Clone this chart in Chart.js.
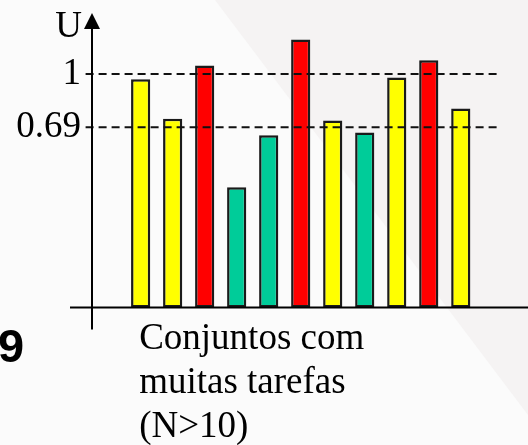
<!DOCTYPE html>
<html>
<head>
<meta charset="utf-8">
<script src="https://cdn.jsdelivr.net/npm/chart.js@4/dist/chart.umd.min.js"></script>
<style>
  html, body { margin: 0; padding: 0; background: #ffffff; }
  #wrap { position: relative; width: 528px; height: 445px; }
</style>
</head>
<body>
<div id="wrap"><canvas id="c"></canvas></div>
<script>
// ---- data ----
const values = [0.97, 0.74, 1.05, 0.46, 0.66, 1.20, 0.73, 0.67, 0.98, 1.08, 0.80];
const groups = ['yellow', 'yellow', 'red', 'green', 'green', 'red', 'yellow', 'green', 'yellow', 'red', 'yellow'];
const refLevels = [1, 0.69];
const tickLabels = ['1', '0.69'];
const axisLabel = 'U';
const caption = ['Conjuntos com', 'muitas tarefas', '(N>10)'];
const cornerText = '9';

// ---- styles ----
const palette = { yellow: '#ffff00', red: '#ff0000', green: '#00cc99' };
const serif = '"Liberation Serif", "Times New Roman", serif';

// the drawing is schematic: the value axis is piecewise linear between its marked levels
const yBreakValues = [0, 0.69, 1, 1.314];
const yBreakDecimals = [0, 0.6268, 0.8122, 1];

function toDecimal(v) {
  const n = yBreakValues.length;
  for (let i = 1; i < n; i++) {
    if (v <= yBreakValues[i] || i === n - 1) {
      const t = (v - yBreakValues[i - 1]) / (yBreakValues[i] - yBreakValues[i - 1]);
      return yBreakDecimals[i - 1] + t * (yBreakDecimals[i] - yBreakDecimals[i - 1]);
    }
  }
  return 0;
}
function fromDecimal(d) {
  const n = yBreakDecimals.length;
  for (let i = 1; i < n; i++) {
    if (d <= yBreakDecimals[i] || i === n - 1) {
      const t = (d - yBreakDecimals[i - 1]) / (yBreakDecimals[i] - yBreakDecimals[i - 1]);
      return yBreakValues[i - 1] + t * (yBreakValues[i] - yBreakValues[i - 1]);
    }
  }
  return 0;
}

class PiecewiseScale extends Chart.LinearScale {
  getPixelForValue(value) {
    if (value === null || value === undefined || isNaN(value)) return NaN;
    return this.getPixelForDecimal(toDecimal(value));
  }
  getValueForPixel(pixel) {
    return fromDecimal(this.getDecimalForPixel(pixel));
  }
}
PiecewiseScale.id = 'piecewise';
PiecewiseScale.defaults = Chart.LinearScale.defaults;
Chart.register(PiecewiseScale);

const barData = values.map((v, i) => ({ x: i + 1, y: v }));
const refStart = -0.72, refEnd = 12.15;
const refDatasets = refLevels.map(level => ({
  type: 'line',
  data: [{ x: refStart, y: level }, { x: refEnd, y: level }],
  borderColor: '#111111',
  borderWidth: 2,
  borderDash: [8, 5],
  pointRadius: 0,
  clip: false,
  order: 0
}));

const decorPlugin = {
  id: 'decor',
  beforeDraw(chart) {
    const ctx = chart.ctx;
    ctx.save();
    ctx.fillStyle = '#fbfbfb';
    ctx.fillRect(0, 0, chart.width, chart.height);
    ctx.fillStyle = '#f5f3f3';
    ctx.beginPath();
    ctx.moveTo(215, 0);
    ctx.lineTo(chart.width, 0);
    ctx.lineTo(chart.width, 415);
    ctx.closePath();
    ctx.fill();
    ctx.restore();
  },
  afterDatasetsDraw(chart) {
    const ctx = chart.ctx;
    const xs = chart.scales.x, ys = chart.scales.y;
    const ax = chart.chartArea.left;
    const ay = ys.getPixelForValue(0);
    ctx.save();
    ctx.strokeStyle = '#000';
    ctx.lineWidth = 2;
    // x axis
    ctx.beginPath();
    ctx.moveTo(ax - 22, ay);
    ctx.lineTo(chart.width, ay);
    ctx.stroke();
    // y axis
    ctx.beginPath();
    ctx.moveTo(ax, chart.chartArea.top + 6);
    ctx.lineTo(ax, ay + 22);
    ctx.stroke();
    // arrow head
    ctx.fillStyle = '#000';
    ctx.beginPath();
    ctx.moveTo(ax, chart.chartArea.top - 7);
    ctx.lineTo(ax - 8, chart.chartArea.top + 9);
    ctx.lineTo(ax + 8, chart.chartArea.top + 9);
    ctx.closePath();
    ctx.fill();
    // axis label
    ctx.font = '37px ' + serif;
    ctx.textAlign = 'right';
    ctx.textBaseline = 'alphabetic';
    ctx.fillText(axisLabel, ax - 10, chart.chartArea.top + 17);
    // caption
    ctx.textAlign = 'left';
    const cx = xs.getPixelForValue(1) - 1.5;
    caption.forEach((line, i) => {
      ctx.fillText(line, cx, ay + 41.5 + i * 43.8);
    });
    // corner slide number
    ctx.font = 'bold 47px "Liberation Sans", Arial, sans-serif';
    ctx.fillText(cornerText, -2, 362);
    ctx.restore();
  }
};

new Chart(document.getElementById('c'), {
  type: 'bar',
  data: {
    datasets: [
      {
        type: 'bar',
        data: barData,
        backgroundColor: groups.map(g => palette[g]),
        borderColor: '#1a1a1a',
        borderWidth: 2.5,
        borderSkipped: false,
        barPercentage: 0.6,
        categoryPercentage: 1,
        order: 1
      },
      ...refDatasets
    ]
  },
  options: {
    responsive: true,
    maintainAspectRatio: false,
    animation: false,
    events: [],
    layout: { padding: { left: 0, right: 0, top: 20, bottom: 137.5 } },
    plugins: { legend: { display: false }, tooltip: { enabled: false }, title: { display: false } },
    scales: {
      x: {
        type: 'linear',
        min: -0.52,
        max: 13.1,
        offset: false,
        display: false
      },
      y: {
        type: 'piecewise',
        min: 0,
        max: 1.314,
        grid: { display: false, drawTicks: false },
        border: { display: false },
        afterBuildTicks(scale) {
          scale.ticks = refLevels.map(v => ({ value: v }));
        },
        afterFit(scale) {
          scale.width = 92;
          scale.paddingTop = 0;
          scale.paddingBottom = 0;
        },
        ticks: {
          padding: 11,
          color: '#000',
          font: { family: serif, size: 37 },
          callback(value) {
            const i = refLevels.indexOf(value);
            return i >= 0 ? tickLabels[i] : '';
          }
        }
      }
    }
  },
  plugins: [decorPlugin]
});
</script>
</body>
</html>
